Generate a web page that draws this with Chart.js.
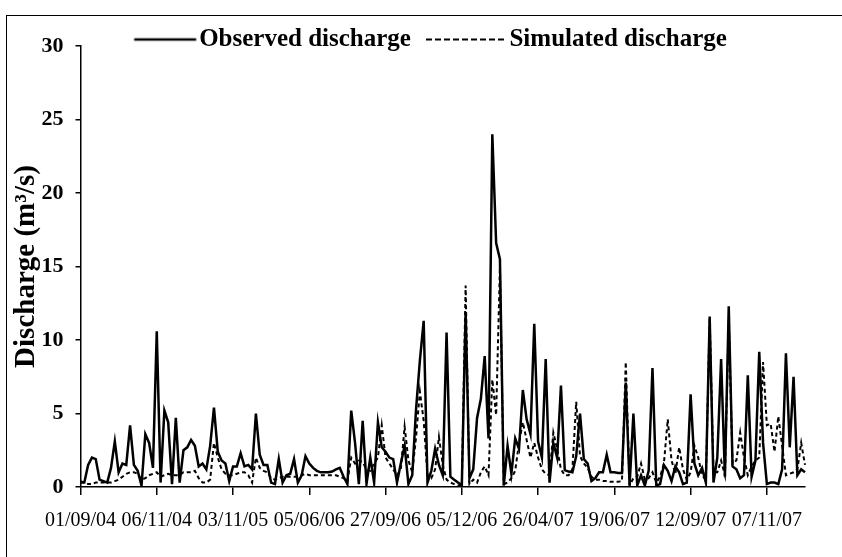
<!DOCTYPE html>
<html>
<head>
<meta charset="utf-8">
<script src="https://cdn.jsdelivr.net/npm/chart.js@4.4.1/dist/chart.umd.min.js"></script>
<style>
  html, body { margin: 0; padding: 0; background: #fff; width: 842px; height: 557px; overflow: hidden; }
  #frame { position: absolute; left: 6px; top: 15px; width: 842px; height: 640px; border: 1.5px solid #000; box-sizing: border-box; }
  #wrap { position: absolute; left: 0; top: 0; width: 842px; height: 557px; }
</style>
</head>
<body>
<div id="frame"></div>
<div id="wrap"><canvas id="c" width="842" height="557"></canvas></div>
<script>
// ---- data ----
const tickLabels = ['01/09/04', '06/11/04', '03/11/05', '05/06/06', '27/09/06',
                    '05/12/06', '26/04/07', '19/06/07', '12/09/07', '07/11/07'];
const labelEvery = 20;

const observed = [
  0.3, 0.3, 1.5, 2.0, 1.9, 0.5, 0.4, 0.3, 1.3, 3.1,
  1.0, 1.6, 1.5, 4.2, 1.5, 1.1, 0.1, 3.6, 3.0, 1.3,
  10.6, 0.3, 5.2, 4.4, 0.2, 4.7, 0.3, 2.5, 2.7, 3.2,
  2.8, 1.4, 1.6, 1.2, 2.8, 5.4, 2.4, 1.8, 1.6, 0.4,
  1.4, 1.4, 2.3, 1.4, 1.5, 1.2, 5.0, 2.2, 1.5, 1.5,
  0.3, 0.2, 1.9, 0.3, 0.8, 0.9, 1.9, 0.3, 0.8, 2.1,
  1.6, 1.3, 1.1, 1.0, 1.0, 1.0, 1.05, 1.2, 1.3, 0.7,
  0.2, 5.2, 3.0, 0.2, 4.5, 0.2, 2.0, 0.3, 4.4, 2.7,
  2.4, 2.0, 1.9, 0.3, 1.6, 2.8, 0.2, 0.8, 5.3, 8.6,
  11.3, 0.3, 1.1, 2.6, 1.5, 0.8, 10.5, 0.7, 0.5, 0.3,
  0.1, 11.9, 0.6, 1.2, 4.7, 6.0, 8.9, 3.3, 24.0, 16.6,
  15.5, 0.1, 2.8, 0.9, 3.3, 2.6, 6.6, 4.6, 3.6, 11.1,
  3.1, 2.0, 8.7, 0.3, 3.0, 2.0, 6.9, 1.15, 1.05, 1.0,
  2.1, 5.0, 1.9, 1.6, 0.4, 0.6, 1.0, 1.0, 2.2, 1.0,
  1.0, 0.95, 0.95, 7.1, 0.1, 5.0, 0.1, 0.8, 0.1, 1.1,
  8.1, 0.1, 0.2, 1.5, 1.1, 0.4, 1.4, 1.0, 0.2, 0.3,
  6.3, 1.6, 0.8, 1.3, 0.3, 11.6, 0.3, 2.0, 8.7, 0.7,
  12.3, 1.4, 1.2, 0.6, 0.8, 7.6, 0.7, 1.8, 9.2, 3.0,
  0.2, 0.3, 0.3, 0.2, 1.2, 9.1, 2.7, 7.5, 0.8, 1.2,
  1.0
];

const simulated = [
  0.4, 0.3, 0.2, 0.2, 0.3, 0.3, 0.3, 0.3, 0.3, 0.4,
  0.5, 0.7, 0.9, 1.0, 1.0, 0.9, 0.5, 0.6, 0.8, 0.9,
  1.0, 0.7, 0.8, 0.9, 0.8, 0.8, 0.8, 1.0, 1.0, 1.0,
  1.1, 0.6, 0.3, 0.3, 0.5, 3.0, 2.0, 1.2, 0.9, 0.8,
  0.8, 0.9, 1.0, 1.0, 0.8, 0.3, 2.0, 1.3, 1.1, 1.0,
  0.6, 0.5, 0.6, 0.7, 0.7, 0.7, 0.7, 0.7, 0.8, 0.9,
  0.8, 0.8, 0.8, 0.8, 0.8, 0.8, 0.8, 0.8, 0.7, 0.6,
  0.4, 2.0, 1.6, 1.8, 1.7, 1.2, 1.1, 1.6, 2.0, 4.2,
  2.0, 1.6, 1.2, 0.8, 1.2, 4.1, 1.8, 1.0, 3.4, 6.5,
  4.5, 0.8, 0.6, 1.2, 3.4, 1.5, 0.5, 0.3, 0.2, 0.1,
  0.1, 13.7, 0.2, 0.5, 0.3, 1.0, 1.4, 0.8, 7.3, 4.9,
  15.0, 0.2, 0.3, 0.6, 1.1, 3.0, 4.4, 3.2, 2.0, 3.0,
  2.0, 1.2, 0.9, 0.8, 3.7, 2.6, 1.2, 0.8, 0.8, 1.2,
  5.8, 2.1, 1.6, 1.3, 0.7, 0.5, 0.5, 0.4, 0.4, 0.35,
  0.35, 0.35, 0.4, 8.5, 0.1, 0.6, 0.7, 1.6, 0.5, 0.6,
  1.0, 0.3, 0.7, 1.6, 4.6, 1.8, 0.9, 2.7, 1.2, 0.5,
  1.0, 2.8, 2.0, 0.8, 0.5, 11.5, 1.0, 1.0, 1.8, 0.8,
  11.5, 1.6, 1.8, 3.7, 2.0, 0.8, 1.4, 1.8, 2.0, 8.5,
  4.2, 4.3, 2.4, 4.8, 2.8, 0.8, 0.9, 1.0, 1.2, 3.0,
  1.5
];

const categories = observed.map((_, i) =>
  (i % labelEvery === 0 && tickLabels[i / labelEvery]) ? tickLabels[i / labelEvery] : '');

// ---- chart ----
const FONT = "'Liberation Serif', 'Times New Roman', serif";
Chart.defaults.color = '#000';
Chart.defaults.font.family = FONT;

// legend key symbols (line samples), drawn on small canvases
const LEGEND_BOX = 78;
function legendSymbol(fromX, toX, dash, width) {
  const c = document.createElement('canvas');
  c.width = 200; c.height = 8;
  const g = c.getContext('2d');
  g.strokeStyle = '#000';
  g.lineWidth = width;
  g.setLineDash(dash);
  g.beginPath();
  g.moveTo(100 + fromX, 4);
  g.lineTo(100 + toX, 4);
  g.stroke();
  return c;
}
const legendSymbols = [
  legendSymbol(-13.5, 48.5, [], 2.5),
  legendSymbol(-32, 48.5, [6, 3], 2.2)
];

const LEGEND_OVERLAP = 16;
const LEGEND_SHIFT_X = -25;
const legendTweak = {
  id: 'legendTweak',
  beforeUpdate(chart) {
    const lg = chart.legend;
    if (lg && !lg._tweaked) {
      const fit = lg.fit;
      lg.fit = function () {
        fit.call(this);
        this.height = Math.max(0, this.height - LEGEND_OVERLAP);
      };
      lg._tweaked = true;
    }
  },
  afterLayout(chart) {
    const lg = chart.legend;
    if (lg) {
      lg.bottom = lg.top + lg.height + LEGEND_OVERLAP;
      lg.left += LEGEND_SHIFT_X;
      lg.right += LEGEND_SHIFT_X;
    }
  }
};

new Chart(document.getElementById('c'), {
  type: 'line',
  data: {
    labels: categories,
    datasets: [
      {
        label: 'Observed discharge',
        data: observed,
        borderColor: '#000',
        backgroundColor: '#000',
        borderWidth: 2.5,
        pointRadius: 0,
        tension: 0,
        fill: false
      },
      {
        label: 'Simulated discharge',
        data: simulated,
        borderColor: '#000',
        backgroundColor: '#000',
        borderWidth: 2,
        borderDash: [4, 3],
        pointRadius: 0,
        tension: 0,
        fill: false
      }
    ]
  },
  options: {
    responsive: false,
    animation: false,
    devicePixelRatio: 1,
    events: [],
    layout: { padding: { left: 8.5, right: 37, top: 19, bottom: 30 } },
    plugins: {
      tooltip: { enabled: false },
      title: { display: false },
      legend: {
        display: true,
        position: 'top',
        align: 'center',
        fullSize: false,
        labels: {
          usePointStyle: true,
          pointStyleWidth: LEGEND_BOX,
          padding: 8,
          color: '#000',
          font: { family: FONT, size: 25, weight: 'bold' },
          generateLabels(chart) {
            const items = Chart.defaults.plugins.legend.labels.generateLabels(chart);
            items.forEach((it) => {
              it.pointStyle = legendSymbols[it.datasetIndex];
              it.lineWidth = 0;
              it.lineDash = [];
            });
            return items;
          }
        }
      }
    },
    scales: {
      x: {
        type: 'category',
        offset: false,
        grid: {
          display: true,
          drawOnChartArea: false,
          drawTicks: true,
          tickLength: 8,
          lineWidth: 1.5,
          color: (ctx) => (ctx.index % labelEvery === 0 ? '#000' : 'rgba(0,0,0,0)')
        },
        border: { display: true, color: '#000', width: 1.5 },
        ticks: {
          autoSkip: false,
          maxRotation: 0,
          minRotation: 0,
          padding: 14,
          color: '#000',
          font: { family: FONT, size: 20 }
        },
        afterFit(scale) { scale.height = 40; }
      },
      y: {
        min: 0,
        max: 30,
        ticks: {
          stepSize: 5,
          padding: 12,
          color: '#000',
          font: { family: FONT, size: 22, weight: 'bold' }
        },
        grid: { display: true, drawOnChartArea: false, tickLength: 5, lineWidth: 1.5, color: '#000' },
        border: { display: true, color: '#000', width: 1.5 },
        title: {
          display: true,
          text: 'Discharge (m³/s)',
          color: '#000',
          font: { family: FONT, size: 29, weight: 'bold' },
          padding: { top: 1, bottom: 0 }
        },
        afterFit(scale) { scale.width = 72; }
      }
    }
  },
  plugins: [legendTweak]
});
</script>
</body>
</html>
